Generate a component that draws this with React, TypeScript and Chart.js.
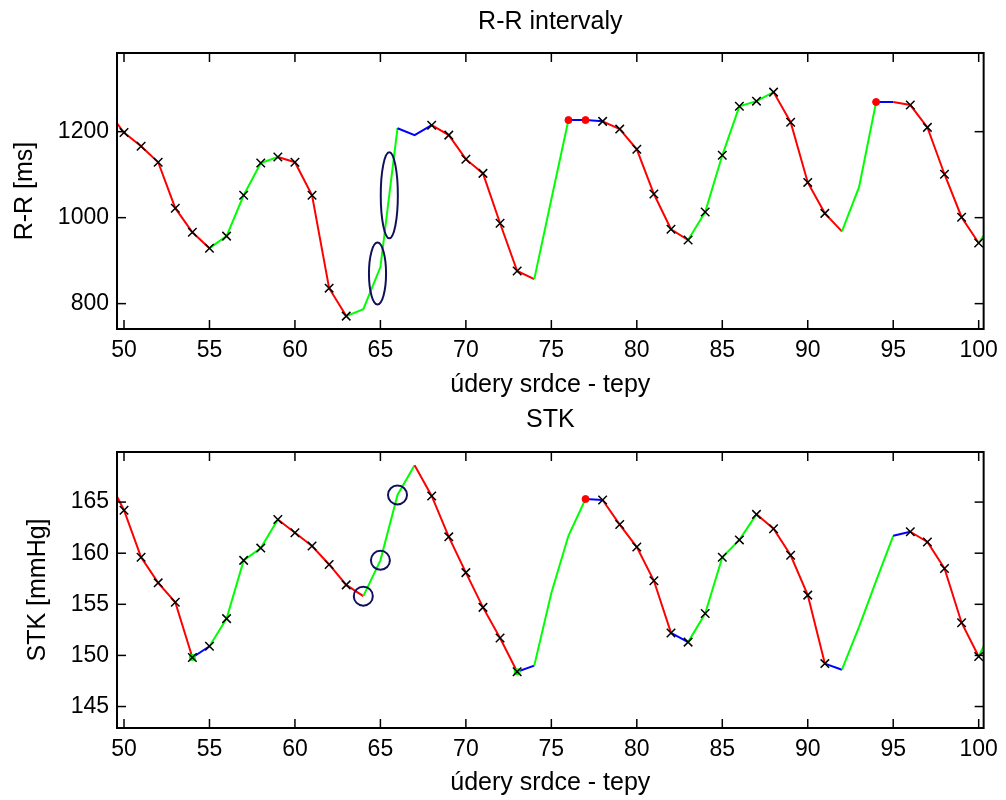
import React, { useEffect, useRef } from 'react';
import { Chart, registerables } from 'chart.js';

Chart.register(...registerables);

// ---------- data ----------
const beats = [
  49, 50, 51, 52, 53, 54, 55, 56, 57, 58, 59, 60, 61, 62, 63, 64, 65, 66, 67, 68, 69, 70, 71, 72, 73, 74,
  75, 76, 77, 78, 79, 80, 81, 82, 83, 84, 85, 86, 87, 88, 89, 90, 91, 92, 93, 94, 95, 96, 97, 98, 99, 100, 101,
];

const rrValues = [
  1250, 1198, 1166, 1129, 1022, 966, 929, 957, 1052, 1127, 1141, 1129, 1052, 836, 771, 787, 885, 1208, 1192, 1215,
  1192, 1136, 1103, 987, 876, 857, 1043, 1227, 1227, 1224, 1206, 1159, 1055, 973, 948, 1013, 1145, 1259, 1271, 1292,
  1222, 1082, 1010, 968, 1071, 1269, 1269, 1262, 1210, 1101, 1001, 941, 1000,
];

const stkValues = [
  167.5, 164.2, 159.6, 157.1, 155.2, 149.8, 150.9, 153.6, 159.3, 160.5, 163.3, 162.0, 160.7, 158.9, 156.9, 155.8,
  159.3, 165.7, 168.6, 165.6, 161.6, 158.1, 154.7, 151.7, 148.4, 149.0, 156.1, 161.7, 165.3, 165.2, 162.8, 160.6,
  157.3, 152.2, 151.3, 154.1, 159.6, 161.3, 163.8, 162.4, 159.8, 155.9, 149.2, 148.6, 152.8, 157.3, 161.7, 162.1,
  161.1, 158.5, 153.2, 149.9, 153.3,
];

// segment trend between consecutive beats: D = falling, U = rising, F = flat
const rrTrend = [
  'D', 'D', 'D', 'D', 'D', 'D', 'U', 'U', 'U', 'U', 'D', 'D', 'D', 'D', 'U', 'U', 'U', 'F', 'F', 'D', 'D', 'D', 'D', 'D',
  'D', 'U', 'U', 'F', 'F', 'D', 'D', 'D', 'D', 'D', 'U', 'U', 'U', 'U', 'U', 'D', 'D', 'D', 'D', 'U', 'U', 'F', 'D', 'D',
  'D', 'D', 'D', 'U',
];
const stkTrend = [
  'D', 'D', 'D', 'D', 'D', 'F', 'U', 'U', 'U', 'U', 'D', 'D', 'D', 'D', 'D', 'U', 'U', 'U', 'D', 'D', 'D', 'D', 'D', 'D',
  'F', 'U', 'U', 'U', 'F', 'D', 'D', 'D', 'D', 'F', 'U', 'U', 'U', 'U', 'D', 'D', 'D', 'D', 'F', 'U', 'U', 'U', 'F', 'D',
  'D', 'D', 'D', 'U',
];

const markedBeats = [
  50, 51, 52, 53, 54, 55, 56, 57, 58, 59, 60, 61, 62, 63, 68, 69, 70, 71, 72, 73, 78, 79, 80, 81, 82, 83, 84, 85, 86,
  87, 88, 89, 90, 91, 96, 97, 98, 99, 100,
];
const rrRedBeats = [76, 77, 94];
const stkRedBeats = [77];
const stkGreenBeats = [54, 73];
const stkCircleBeats = [64, 65, 66];

// highlighted regions in R-R plot: centre beat, centre ms, half-width (beats), half-height (ms)
const rrEllipseBeats = [64.83, 65.52];
const rrEllipseMs = [870, 1052];
const rrEllipseHalfBeats = [0.5, 0.5];
const rrEllipseHalfMs = [72, 100];

const xTicks = [50, 55, 60, 65, 70, 75, 80, 85, 90, 95, 100];
const rrTicks = [800, 1000, 1200];
const stkTicks = [145, 150, 155, 160, 165];

// ---------- helpers ----------
const trendColor: Record<string, string> = { D: '#ff0000', U: '#00ff00', F: '#0000ff' };
const FONT = "'Liberation Sans', Arial, Helvetica, sans-serif";

const pts = (values: number[], which: number[]) =>
  which.map((b) => ({ x: b, y: values[beats.indexOf(b)] }));

function axesPlugin(ellipses: boolean) {
  return {
    id: 'matlabAxes',
    afterDatasetsDraw(chart: any) {
      const { ctx, chartArea: a, scales } = chart;
      const xs = scales.x;
      const ys = scales.y;
      ctx.save();
      if (ellipses) {
        ctx.strokeStyle = '#10105a';
        ctx.lineWidth = 2;
        rrEllipseBeats.forEach((bx, i) => {
          const cx = xs.getPixelForValue(bx);
          const cy = ys.getPixelForValue(rrEllipseMs[i]);
          const rx = Math.abs(xs.getPixelForValue(bx + rrEllipseHalfBeats[i]) - cx);
          const ry = Math.abs(ys.getPixelForValue(rrEllipseMs[i] + rrEllipseHalfMs[i]) - cy);
          ctx.beginPath();
          ctx.ellipse(cx, cy, rx, ry, 0, 0, Math.PI * 2);
          ctx.stroke();
        });
      }
      ctx.strokeStyle = '#000';
      ctx.lineWidth = 2;
      ctx.strokeRect(a.left, a.top, a.right - a.left, a.bottom - a.top);
      ctx.lineWidth = 1.5;
      const L = 9;
      const seg = (x1: number, y1: number, x2: number, y2: number) => {
        ctx.beginPath();
        ctx.moveTo(x1, y1);
        ctx.lineTo(x2, y2);
        ctx.stroke();
      };
      xs.ticks.forEach((t: any) => {
        const p = xs.getPixelForValue(t.value);
        seg(p, a.top, p, a.top + L);
        seg(p, a.bottom, p, a.bottom - L);
      });
      ys.ticks.forEach((t: any) => {
        const p = ys.getPixelForValue(t.value);
        seg(a.left, p, a.left + L, p);
        seg(a.right, p, a.right - L, p);
      });
      ctx.restore();
    },
  };
}

function makeConfig(opts: {
  title: string;
  titlePad: { top: number; bottom: number };
  yTitle: string;
  yTitlePad: number;
  values: number[];
  trend: string[];
  yMin: number;
  yMax: number;
  yTicks: number[];
  xAxisHeight: number;
  xTitlePad: number;
  extra: any[];
  ellipses: boolean;
}): any {
  return {
    type: 'scatter',
    data: {
      datasets: [
        {
          type: 'line',
          data: beats.map((b, i) => ({ x: b, y: opts.values[i] })),
          borderWidth: 2,
          pointRadius: 0,
          tension: 0,
          fill: false,
          order: 10,
          segment: {
            borderColor: (c: any) => trendColor[opts.trend[c.p0DataIndex]],
          },
          borderColor: '#ff0000',
        },
        {
          data: pts(opts.values, markedBeats),
          pointStyle: 'crossRot',
          pointRadius: 6,
          pointBorderWidth: 1.5,
          pointBorderColor: '#000',
          pointBackgroundColor: '#000',
          showLine: false,
          order: 3,
        },
        ...opts.extra,
      ],
    },
    options: {
      responsive: false,
      animation: false,
      layout: { padding: { left: 0, right: 18, top: 0, bottom: 0 } },
      plugins: {
        legend: { display: false },
        tooltip: { enabled: false },
        title: {
          display: true,
          fullSize: false,
          text: opts.title,
          color: '#000',
          font: { family: FONT, size: 25, weight: 'normal' },
          padding: opts.titlePad,
        },
      },
      scales: {
        x: {
          type: 'linear',
          min: 49.59,
          max: 100.29,
          afterBuildTicks: (s: any) => {
            s.ticks = xTicks.map((v) => ({ value: v }));
          },
          afterFit: (s: any) => {
            s.height = opts.xAxisHeight;
          },
          grid: { display: false, drawTicks: false },
          border: { display: false },
          ticks: {
            color: '#000',
            font: { family: FONT, size: 23 },
            padding: 8,
            maxRotation: 0,
            autoSkip: false,
            callback: (v: any) => String(v),
          },
          title: {
            display: true,
            text: 'údery srdce - tepy',
            color: '#000',
            font: { family: FONT, size: 25 },
            padding: { top: 0, bottom: opts.xTitlePad },
          },
        },
        y: {
          type: 'linear',
          min: opts.yMin,
          max: opts.yMax,
          afterBuildTicks: (s: any) => {
            s.ticks = opts.yTicks.map((v) => ({ value: v }));
          },
          afterFit: (s: any) => {
            s.width = 117;
          },
          grid: { display: false, drawTicks: false },
          border: { display: false },
          ticks: {
            color: '#000',
            font: { family: FONT, size: 23 },
            padding: 8,
            autoSkip: false,
            callback: (v: any) => String(v),
          },
          title: {
            display: true,
            text: opts.yTitle,
            color: '#000',
            font: { family: FONT, size: 25 },
            padding: { top: opts.yTitlePad, bottom: 0 },
          },
        },
      },
    },
    plugins: [axesPlugin(opts.ellipses)],
  };
}

export default function App() {
  const topRef = useRef<HTMLCanvasElement | null>(null);
  const botRef = useRef<HTMLCanvasElement | null>(null);

  useEffect(() => {
    const top = new Chart(
      topRef.current as HTMLCanvasElement,
      makeConfig({
        title: 'R-R intervaly',
        titlePad: { top: 7, bottom: 16 },
        yTitle: 'R-R [ms]',
        yTitlePad: 10,
        values: rrValues,
        trend: rrTrend,
        yMin: 741,
        yMax: 1383,
        yTicks: rrTicks,
        xAxisHeight: 71,
        xTitlePad: 0,
        ellipses: true,
        extra: [
          {
            data: pts(rrValues, rrRedBeats),
            pointStyle: 'circle',
            pointRadius: 3.5,
            pointBackgroundColor: '#ff0000',
            pointBorderColor: '#ff0000',
            showLine: false,
            order: 2,
          },
        ],
      })
    );
    const bot = new Chart(
      botRef.current as HTMLCanvasElement,
      makeConfig({
        title: 'STK',
        titlePad: { top: 5, bottom: 17 },
        yTitle: 'STK [mmHg]',
        yTitlePad: 23,
        values: stkValues,
        trend: stkTrend,
        yMin: 142.9,
        yMax: 169.9,
        yTicks: stkTicks,
        xAxisHeight: 72,
        xTitlePad: 2,
        ellipses: false,
        extra: [
          {
            data: pts(stkValues, stkGreenBeats),
            pointStyle: 'rect',
            pointRadius: 4,
            pointBackgroundColor: '#00ff00',
            pointBorderColor: '#00ff00',
            showLine: false,
            order: 4,
          },
          {
            data: pts(stkValues, stkRedBeats),
            pointStyle: 'circle',
            pointRadius: 3.5,
            pointBackgroundColor: '#ff0000',
            pointBorderColor: '#ff0000',
            showLine: false,
            order: 2,
          },
          {
            data: pts(stkValues, stkCircleBeats),
            pointStyle: 'circle',
            pointRadius: 9.5,
            pointBackgroundColor: 'rgba(0,0,0,0)',
            pointBorderColor: '#10105a',
            pointBorderWidth: 2,
            showLine: false,
            order: 1,
          },
        ],
      })
    );
    return () => {
      top.destroy();
      bot.destroy();
    };
  }, []);

  return (
    <div
      style={{
        position: 'absolute',
        left: 0,
        top: 0,
        width: 1006,
        height: 800,
        background: '#fff',
        overflow: 'hidden',
      }}
    >
      <canvas ref={topRef} width={1006} height={400} style={{ display: 'block' }} />
      <canvas ref={botRef} width={1006} height={400} style={{ display: 'block' }} />
    </div>
  );
}
